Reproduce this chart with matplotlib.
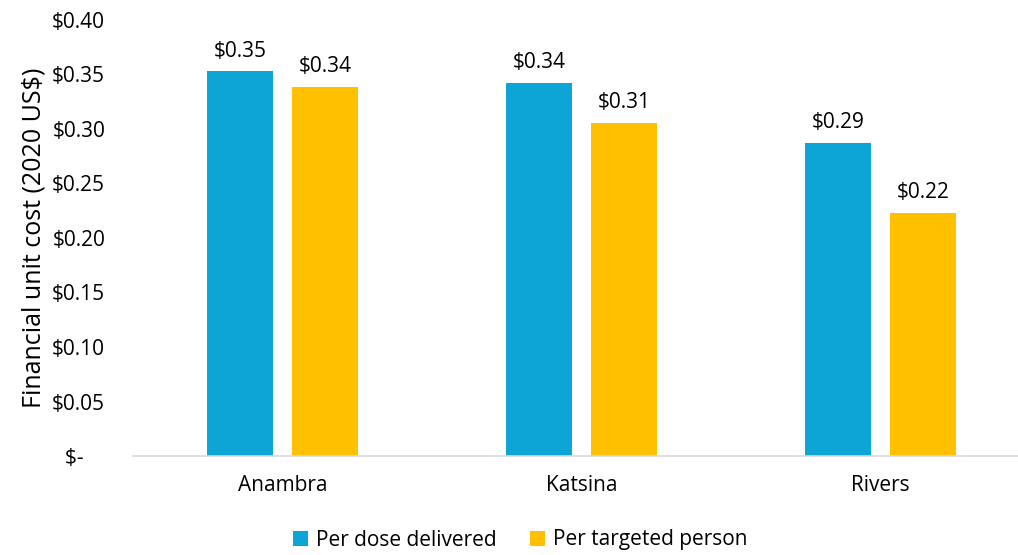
import matplotlib.pyplot as plt
import matplotlib.ticker as ticker
import numpy as np

plt.rcParams['font.family'] = ['Open Sans', 'DejaVu Sans']

states = ['Anambra', 'Katsina', 'Rivers']
per_dose = [0.353, 0.342, 0.287]
per_person = [0.3385, 0.3055, 0.223]
series_names = ['Per dose delivered', 'Per targeted person']
colors = ['#0CA5D6', '#FFC000']

fig = plt.figure(figsize=(10.18, 5.55), dpi=100)
ax = fig.add_axes([133 / 1018, 99 / 555, (1018 - 133) / 1018, 436 / 555])

x = np.arange(len(states))
w = 0.22
off = 0.142
bars = []
for vals, name, c, d in zip([per_dose, per_person], series_names, colors, [-off, off]):
    b = ax.bar(x + d, vals, width=w, color=c, label=name)
    bars.append(b)
    for xi, v in zip(x + d, vals):
        ax.annotate('$%.2f' % v, (xi, v), xytext=(0, 7), textcoords='offset points',
                    ha='center', va='bottom', fontsize=15)

ax.set_xlim(-0.5, 2.46)
ax.set_ylim(0, 0.40)
ax.yaxis.set_major_locator(ticker.MultipleLocator(0.05))
ax.yaxis.set_major_formatter(ticker.FuncFormatter(
    lambda v, p: '$-    ' if abs(v) < 1e-9 else '$%.2f' % v))
ax.set_xticks(x)
ax.set_xticklabels(states)
ax.tick_params(axis='both', length=0, labelsize=15)
ax.tick_params(axis='x', pad=14)
ax.tick_params(axis='y', pad=20)
for s in ['top', 'right', 'left']:
    ax.spines[s].set_visible(False)
ax.spines['bottom'].set_color('#D9D9D9')
ax.spines['bottom'].set_linewidth(1.2)
ax.set_ylabel('Financial unit cost (2020 US$)', fontsize=18, labelpad=4)

fig.legend(handles=bars, loc='center', bbox_to_anchor=(520 / 1018, 1 - 540 / 555),
           ncol=2, frameon=False, fontsize=15, handlelength=0.75, handleheight=0.75,
           handletextpad=0.35, columnspacing=1.6)

fig.savefig('out.png', dpi=100)
